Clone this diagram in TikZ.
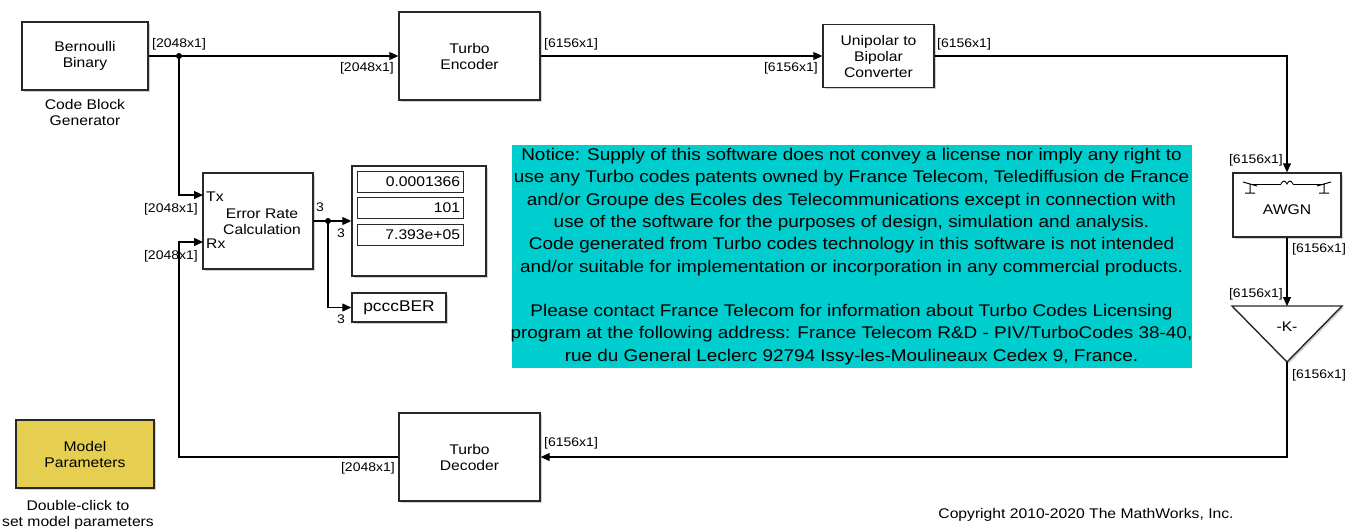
\documentclass[tikz,border=0pt]{standalone}
\usepackage{fontspec}
\setmainfont[FakeStretch=1.12]{Liberation Sans}
\usetikzlibrary{arrows.meta,calc}
\definecolor{noticecyan}{RGB}{0,205,205}
\definecolor{paramyellow}{RGB}{230,207,80}
\definecolor{edge}{RGB}{40,40,40}
\newcommand{\blkfont}{\fontsize{14}{16}\selectfont}
\newcommand{\lblfont}{\fontsize{12.5}{14}\selectfont}
\newcommand{\ntcfont}{\fontsize{16.9}{22.3}\selectfont}
\begin{document}
\begin{tikzpicture}[x=1pt,y=-1pt,
  shadowed/.style={preaction={fill=black!18,transform canvas={shift={(1.8pt,-1.8pt)}}}},
  blk/.style={draw=edge,line width=1.4pt,fill=white,align=center,font=\blkfont,inner sep=0pt,shadowed},
  cell/.style={draw=edge,line width=1pt,fill=white,align=right,font=\blkfont,inner sep=0pt,text width=100pt,minimum width=106pt,minimum height=21pt},
  lbl/.style={font=\lblfont,inner sep=0pt},
  captxt/.style={font=\blkfont,align=center,inner sep=0pt},
  wire/.style={line width=1.1pt,draw=black},
  arr/.style={wire,-{Triangle[length=9pt,width=8pt]}},
  dot/.style={circle,fill=black,inner sep=0pt,minimum size=6pt}]
\useasboundingbox (0,0) rectangle (1354,531);
% blocks
\node[blk,minimum width=126pt,minimum height=68pt] (bern) at (85,56) {Bernoulli\\Binary};
\node[captxt] (bernc) at (85,112) {Code Block\\Generator};
\node[blk,minimum width=141pt,minimum height=88pt] (enc) at (469.5,56) {Turbo\\Encoder};
\node[blk,minimum width=111pt,minimum height=63pt] (uni) at (878.5,56) {Unipolar to\\Bipolar\\Converter};
\node[blk,minimum width=108pt,minimum height=64pt] (awgn) at (1287,205) {};
\node[font=\blkfont] (awgnt) at (1287,210) {AWGN};
% AWGN icon
\draw[line width=0.9pt] (1250,184) -- (1281,184) (1293,184) -- (1324,184);
\draw[line width=0.9pt] (1281,184) .. controls (1283,180) and (1285,180) .. (1287,184) .. controls (1289,180) and (1291,180) .. (1293,184);
\draw[line width=1pt] (1243,182) -- (1257,186) (1250,184) -- (1250,193) (1245,193) -- (1255,193);
\draw[line width=1pt] (1331,182) -- (1317,186) (1324,184) -- (1324,193) (1319,193) -- (1329,193);
% gain
\coordinate (gin) at (1287,306);
\coordinate (gout) at (1287,362);
\draw[edge,line width=1.4pt,fill=white,shadowed] (1232,306) -- (1342,306) -- (gout) -- cycle;
\node[font=\blkfont] (gaink) at (1287,327) {-K-};
\node[blk,minimum width=141pt,minimum height=88pt] (dec) at (469.5,457) {Turbo\\Decoder};
\node[blk,minimum width=110pt,minimum height=96pt] (err) at (258,221) {};
\node[captxt] (errt) at (262,222) {Error Rate\\Calculation};
\node[font=\blkfont,anchor=west,inner sep=0pt] (tx) at (206,197) {Tx};
\node[font=\blkfont,anchor=west,inner sep=0pt] (rx) at (206,244) {Rx};
\node[blk,minimum width=134pt,minimum height=110pt] (disp) at (419,221) {};
\node[cell] (c1) at (410,182) {0.0001366};
\node[cell] (c2) at (410,208) {101};
\node[cell] (c3) at (410,234.5) {7.393e+05};
\node[blk,minimum width=94pt,minimum height=29pt,font=\fontsize{15.5}{17}\selectfont] (ber) at (399,307.5) {pcccBER};
\node[draw=noticecyan,fill=noticecyan,minimum width=679pt,minimum height=222pt,inner sep=0pt] (notice) at (851.5,256.5) {};
\node[inner sep=0pt,align=center,font=\ntcfont] (noticetext) at (notice.center) {Notice: Supply of this software does not convey a license nor imply any right to\\
use any Turbo codes patents owned by France Telecom, Telediffusion de France\\
and/or Groupe des Ecoles des Telecommunications except in connection with\\
use of the software for the purposes of design, simulation and analysis.\\
Code generated from Turbo codes technology in this software is not intended\\
and/or suitable for implementation or incorporation in any commercial products.\\[22.3pt]
Please contact France Telecom for information about Turbo Codes Licensing\\
program at the following address: France Telecom R\&D - PIV/TurboCodes 38-40,\\
rue du General Leclerc 92794 Issy-les-Moulineaux Cedex 9, France.};
\node[blk,fill=paramyellow,minimum width=138pt,minimum height=68pt] (model) at (85,454) {Model\\Parameters};
\node[captxt] (modelc) at (78,515) {Double-click to\\set model parameters};
\node[font=\blkfont,inner sep=0pt] (copy) at (1086,515) {Copyright 2010-2020 The MathWorks, Inc.};
% wires
\coordinate (split1) at (179,56);
\draw[arr] (bern.east) -- (enc.west);
\draw[arr] (split1) -- (179,195) -- (203,195) coordinate (txin);
\node[dot] (d1) at (split1) {};
\draw[arr] (dec.west) -- (179,457) -- (179,242) -- (203,242) coordinate (rxin);
\draw[arr] (enc.east) -- (uni.west);
\draw[arr] (uni.east) -- (uni.east -| awgn.north) -- (awgn.north);
\draw[arr] (awgn.south) -- (gin);
\draw[arr] (gout) -- (1287,457) -- (dec.east);
\coordinate (split2) at (328,221);
\draw[arr] (err.east) -- (disp.west);
\draw[arr] (split2) -- (328,307.5) -- (ber.west);
\node[dot] (d2) at (split2) {};
% labels
\node[lbl,anchor=south west] (l1) at (152,50) {[2048x1]};
\node[lbl,anchor=north east] (l2) at (394,62) {[2048x1]};
\node[lbl,anchor=south west] (l3) at (544,50) {[6156x1]};
\node[lbl,anchor=north east] (l4) at (818,62) {[6156x1]};
\node[lbl,anchor=south west] (l5) at (937,50) {[6156x1]};
\node[lbl,anchor=east] (l6) at (1283,160) {[6156x1]};
\node[lbl,anchor=west] (l7) at (1292,249) {[6156x1]};
\node[lbl,anchor=east] (l8) at (1283,294) {[6156x1]};
\node[lbl,anchor=west] (l9) at (1292,375) {[6156x1]};
\node[lbl,anchor=west] (l10) at (544,443) {[6156x1]};
\node[lbl,anchor=east] (l11) at (395,468) {[2048x1]};
\node[lbl,anchor=east] (l12) at (198,209) {[2048x1]};
\node[lbl,anchor=east] (l13) at (198,256) {[2048x1]};
\node[lbl] (n1) at (320,207) {3};
\node[lbl] (n2) at (341,233) {3};
\node[lbl] (n3) at (341,319) {3};
\end{tikzpicture}
\end{document}
